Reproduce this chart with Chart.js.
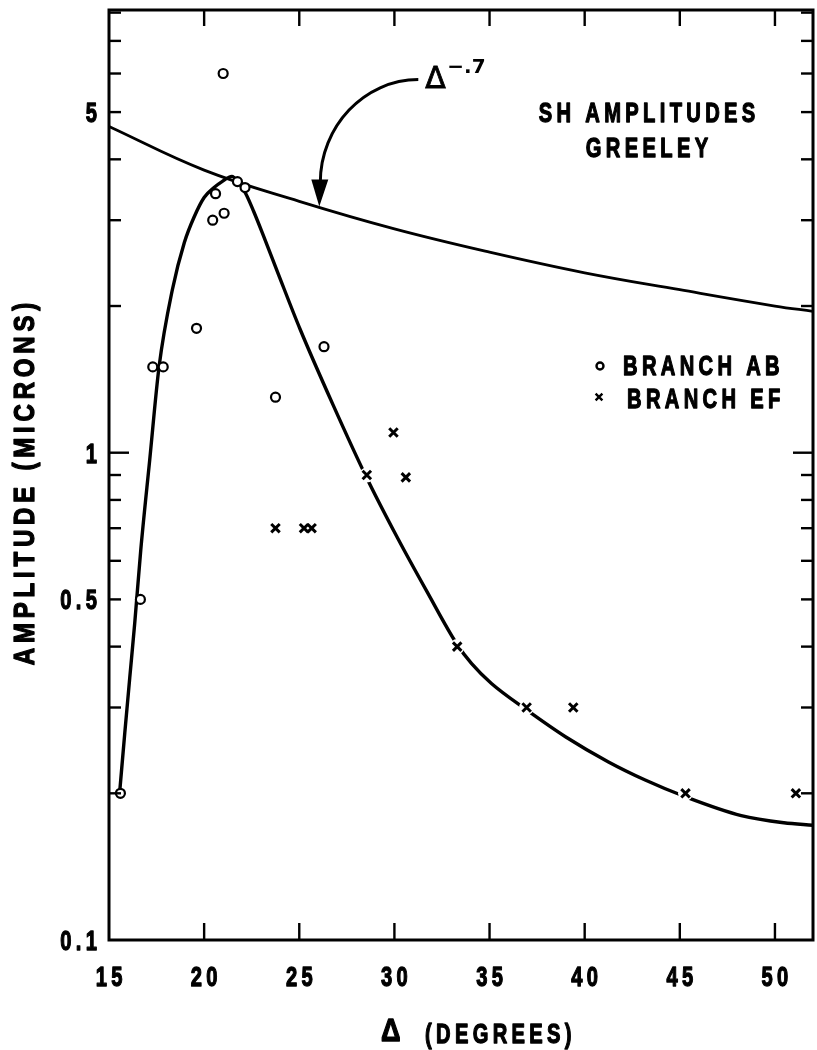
<!DOCTYPE html>
<html>
<head>
<meta charset="utf-8">
<script src="https://cdn.jsdelivr.net/npm/chart.js@4/dist/chart.umd.min.js"></script>
<style>
  html, body { margin: 0; padding: 0; background: #fff; overflow: hidden; }
  #wrap { width: 822px; height: 1050px; }
</style>
</head>
<body>
<div id="wrap"><canvas id="amp" width="822" height="1050"></canvas></div>
<script>
// SH amplitudes recorded at Greeley: branch AB (circles), branch EF (crosses)
var abDelta = [15.6, 16.65, 17.3, 17.85, 19.6, 20.45, 20.6, 21.0, 21.05, 21.75, 22.15, 23.75, 26.3];
var abAmp   = [0.2,  0.5,   1.5,  1.5,   1.8,  3.0,   3.4,  6.0,  3.1,   3.6,   3.5,   1.3,   1.65];

var efDelta = [23.75, 25.25, 25.65, 28.55, 29.95, 30.6, 33.3, 36.95, 39.4, 45.3, 51.1];
var efAmp   = [0.7,   0.7,   0.7,   0.9,   1.1,   0.89, 0.4,  0.3,   0.3,  0.2,  0.2];

// hand-drawn curve through both branches
var fitDelta = [15.57, 15.83, 16.09, 16.35, 16.67, 17.14, 17.63, 18.33, 18.96, 19.48,
                20.0, 20.52, 20.94, 21.46, 21.82, 22.19, 22.6, 23.13, 23.91, 25.05, 26.77,
                28.49, 30.16, 31.72, 33.28, 34.06, 35.1, 36.93, 39.01, 41.25, 43.18, 45.26,
                48.23, 50.47, 52.0];
var fitAmp   = [0.203, 0.266, 0.345, 0.446, 0.632, 0.967, 1.5, 2.16, 2.7, 3.05,
                3.34, 3.5, 3.6, 3.69, 3.58, 3.4, 3.13, 2.78, 2.32, 1.79, 1.255,
                0.897, 0.669, 0.518, 0.405, 0.369, 0.336, 0.297, 0.261, 0.232, 0.213, 0.197,
                0.18, 0.174, 0.172];

// the Δ^-.7 decay line
var refDelta = [15, 20, 25, 30, 35, 40, 45, 50, 52];
var refAmp   = [4.67, 3.8, 3.28, 2.88, 2.58, 2.34, 2.16, 2.0, 1.95];

var xTicks = [15, 20, 25, 30, 35, 40, 45, 50];
var yLabels = [0.1, 0.5, 1, 5];
var yTickMarks = [0.2, 0.3, 0.4, 0.5, 0.6, 0.7, 0.8, 0.9, 1, 2, 3, 4, 5, 6, 7, 8];
var arrowAt = { delta: 26.0, amp: 3.2 };

var FONT = '"Liberation Sans", Arial, Helvetica, sans-serif';

function pts(xs, ys) {
    return xs.map(function (v, i) { return { x: v, y: ys[i] }; });
}

// condensed, letter-spaced heavy caps; y is the middle of the capitals
function label(ctx, str, x, y, o) {
    o = o || {};
    var size = o.size || 28, sx = o.sx || 0.72, gap = o.gap == null ? 6 : o.gap;
    ctx.save();
    ctx.font = 'bold ' + size + 'px ' + FONT;
    ctx.letterSpacing = gap + 'px';
    ctx.textAlign = 'left';
    ctx.textBaseline = 'alphabetic';
    var w = (ctx.measureText(str).width - gap) * sx;
    var dx = o.align === 'center' ? -w / 2 : (o.align === 'right' ? -w : 0);
    ctx.translate(x, y);
    if (o.rotate) ctx.rotate(o.rotate);
    ctx.scale(sx, 1);
    ctx.lineWidth = 1.3;
    ctx.lineJoin = 'round';
    ctx.fillText(str, dx / sx, size * 0.358);
    ctx.strokeText(str, dx / sx, size * 0.358);
    ctx.restore();
}

function seg(ctx, x1, y1, x2, y2) {
    ctx.beginPath();
    ctx.moveTo(x1, y1);
    ctx.lineTo(x2, y2);
    ctx.stroke();
}

var framePlugin = {
    id: 'frame',
    beforeDatasetDraw: function (chart, args) {
        // the curve is broken around the EF crosses
        if (args.index !== 1) return;
        var ctx = chart.ctx;
        ctx.save();
        ctx.fillStyle = '#fff';
        args.meta.data.forEach(function (p) {
            ctx.beginPath();
            ctx.arc(p.x, p.y, 7.5, 0, Math.PI * 2);
            ctx.fill();
        });
        ctx.restore();
    },
    afterDraw: function (chart) {
        var ctx = chart.ctx, a = chart.chartArea;
        var xs = chart.scales.x, ys = chart.scales.y;
        ctx.save();
        ctx.strokeStyle = '#000';
        ctx.fillStyle = '#000';

        // box
        ctx.lineWidth = 3;
        ctx.strokeRect(a.left, a.top, a.right - a.left, a.bottom - a.top);

        // inward ticks
        ctx.lineWidth = 2.4;
        xTicks.forEach(function (v) {
            if (v === xs.min) return;
            var px = xs.getPixelForValue(v);
            seg(ctx, px, a.bottom, px, a.bottom - 17);
            seg(ctx, px, a.top, px, a.top + 16);
        });
        yTickMarks.forEach(function (v) {
            var py = ys.getPixelForValue(v);
            var len = v === 1 ? 20 : 12;
            seg(ctx, a.left, py, a.left + len, py);
            seg(ctx, a.right, py, a.right - len, py);
        });

        // tick labels
        xTicks.forEach(function (v) {
            label(ctx, String(v), xs.getPixelForValue(v), a.bottom + 36, { align: 'center' });
        });
        yLabels.forEach(function (v) {
            label(ctx, String(v), a.left - 12, ys.getPixelForValue(v), { align: 'right' });
        });

        // axis titles
        label(ctx, '\u0394', 381, a.bottom + 90, { size: 32, sx: 0.85, gap: 0 });
        label(ctx, '(DEGREES)', 425, a.bottom + 93);
        label(ctx, 'AMPLITUDE (MICRONS)', 23, 484, { align: 'center', rotate: -Math.PI / 2, size: 30, sx: 0.8 });

        // chart heading
        label(ctx, 'SH AMPLITUDES', 647, 112, { align: 'center' });
        label(ctx, 'GREELEY', 647, 147, { align: 'center' });

        // key
        var H = Chart.helpers;
        ctx.fillStyle = '#fff';
        H.drawPoint(ctx, { pointStyle: 'circle', radius: 3.5, borderWidth: 2.2, rotation: 0 }, 600, 366);
        H.drawPoint(ctx, { pointStyle: 'crossRot', radius: 4.8, borderWidth: 2.6, rotation: 0 }, 599, 397);
        ctx.fillStyle = '#000';
        label(ctx, 'BRANCH AB', 623, 365);
        label(ctx, 'BRANCH EF', 627, 398);

        // arrow pointing at the Δ^-.7 line
        var tx = xs.getPixelForValue(arrowAt.delta), ty = ys.getPixelForValue(arrowAt.amp);
        var sx0 = tx + 100, sy0 = ty - 127;
        ctx.lineWidth = 3;
        ctx.beginPath();
        ctx.moveTo(sx0, sy0);
        ctx.bezierCurveTo(tx + 46, sy0, tx + 2, ty - 80, tx + 2, ty - 24);
        ctx.stroke();
        ctx.beginPath();
        ctx.moveTo(tx - 7, ty - 27);
        ctx.lineTo(tx + 10, ty - 27);
        ctx.lineTo(tx + 1, ty);
        ctx.closePath();
        ctx.fill();

        ctx.textAlign = 'left';
        ctx.textBaseline = 'alphabetic';
        ctx.lineWidth = 0.8;
        ctx.font = '30px "DejaVu Sans", sans-serif';
        ctx.fillText('\u0394', sx0 + 7, sy0 + 8);
        ctx.strokeText('\u0394', sx0 + 7, sy0 + 8);
        ctx.font = 'bold 20px "DejaVu Sans", sans-serif';
        ctx.fillText('\u2212.7', sx0 + 29, sy0 - 7);
        ctx.restore();
    }
};

new Chart(document.getElementById('amp'), {
    type: 'scatter',
    data: {
        datasets: [
            {
                label: 'Branch AB',
                data: pts(abDelta, abAmp),
                pointStyle: 'circle',
                pointRadius: 4.5,
                pointBorderWidth: 2.2,
                pointBackgroundColor: '#fff',
                pointBorderColor: '#000'
            },
            {
                label: 'Branch EF',
                data: pts(efDelta, efAmp),
                pointStyle: 'crossRot',
                pointRadius: 6,
                pointBorderWidth: 3,
                pointBorderColor: '#000'
            },
            {
                label: 'fit',
                data: pts(fitDelta, fitAmp),
                showLine: true,
                pointRadius: 0,
                borderColor: '#000',
                borderWidth: 3.4,
                cubicInterpolationMode: 'monotone',
                fill: false
            },
            {
                label: 'delta^-0.7',
                data: pts(refDelta, refAmp),
                showLine: true,
                pointRadius: 0,
                borderColor: '#000',
                borderWidth: 2.8,
                tension: 0.4,
                fill: false
            }
        ]
    },
    options: {
        responsive: false,
        animation: false,
        events: [],
        layout: { padding: { left: 109, top: 10, right: 3, bottom: 110 } },
        scales: {
            x: { type: 'linear', min: 15, max: 52, display: false },
            y: { type: 'logarithmic', min: 0.1, max: 8.1, display: false }
        },
        plugins: {
            legend: { display: false },
            tooltip: { enabled: false }
        }
    },
    plugins: [framePlugin]
});
</script>
</body>
</html>
